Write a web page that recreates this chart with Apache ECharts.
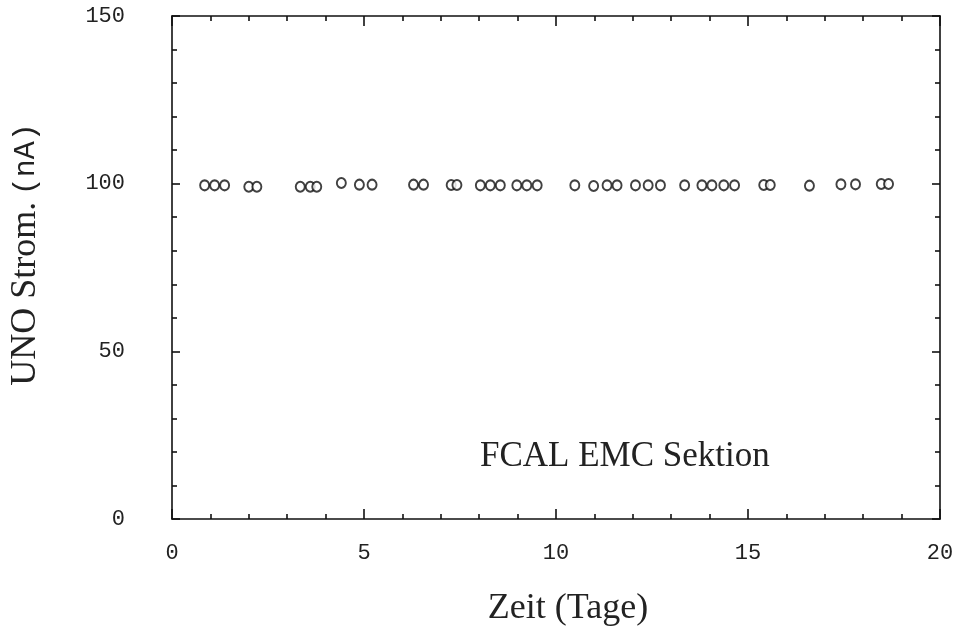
<!DOCTYPE html>
<html>
<head>
<meta charset="utf-8">
<script src="https://cdn.jsdelivr.net/npm/echarts@6/dist/echarts.min.js"></script>
<style>
  html, body { margin: 0; padding: 0; background: #fff; }
  #chart { width: 961px; height: 636px; }
</style>
</head>
<body>
<div id="chart"></div>
<script>
// Zeit (Tage) of each measurement
var zeit = [0.85, 1.11, 1.37, 2.0, 2.21, 3.34, 3.6, 3.77, 4.41, 4.88, 5.21,
  6.29, 6.55, 7.27, 7.42, 8.03, 8.29, 8.55, 8.98, 9.24, 9.51,
  10.49, 10.98, 11.33, 11.59, 12.07, 12.40, 12.72, 13.35, 13.80, 14.06, 14.37, 14.65,
  15.41, 15.58, 16.6, 17.42, 17.8, 18.47, 18.66];
// UNO Strom (nA)
var strom = [99.5, 99.5, 99.5, 99.1, 99.1, 99.1, 99.1, 99.1, 100.2, 99.7, 99.7,
  99.7, 99.7, 99.6, 99.6, 99.5, 99.5, 99.5, 99.5, 99.5, 99.5,
  99.5, 99.3, 99.5, 99.5, 99.5, 99.5, 99.5, 99.5, 99.5, 99.5, 99.5, 99.5,
  99.6, 99.6, 99.4, 99.8, 99.8, 99.9, 99.9];
var xTicks = [0, 5, 10, 15, 20];
var yTicks = [0, 50, 100, 150];

var points = zeit.map(function (t, i) { return [t, strom[i]]; });

var chart = echarts.init(document.getElementById("chart"));

var lineStyle = { color: "#111", width: 1.6 };
var tickLabel = { fontFamily: "Liberation Mono", fontSize: 22, color: "#222" };

var option = {
  backgroundColor: "#fff",
  animation: false,
  grid: { left: 167, right: 21, top: 16, bottom: 117 },
  xAxis: [
    {
      type: "value", min: xTicks[0], max: xTicks[xTicks.length - 1], interval: 5,
      name: "Zeit (Tage)", nameLocation: "middle", nameGap: 72,
      nameTextStyle: { fontFamily: "Liberation Serif", fontSize: 36, color: "#222", padding: [0, 0, 0, 24] },
      axisLine: { show: true, onZero: false, lineStyle: lineStyle },
      axisTick: { inside: true, length: 10, lineStyle: lineStyle },
      minorTick: { show: true, splitNumber: 5, length: 5, lineStyle: lineStyle },
      axisLabel: Object.assign({ margin: 23 }, tickLabel),
      splitLine: { show: false }
    },
    {
      type: "value", position: "top", min: xTicks[0], max: xTicks[xTicks.length - 1], interval: 5,
      axisLine: { show: true, onZero: false, lineStyle: lineStyle },
      axisTick: { inside: true, length: 10, lineStyle: lineStyle },
      minorTick: { show: true, splitNumber: 5, length: 5, lineStyle: lineStyle },
      axisLabel: { show: false },
      splitLine: { show: false }
    }
  ],
  yAxis: [
    {
      type: "value", min: yTicks[0], max: yTicks[yTicks.length - 1], interval: 50,
      name: "{a|UNO Strom.}  {b|(nA)}", nameLocation: "middle", nameGap: 128,
      nameTextStyle: {
        padding: [0, 0, 0, 26],
        rich: {
          a: { fontFamily: "Liberation Serif", fontSize: 36, color: "#222" },
          b: { fontFamily: "Liberation Mono", fontSize: 30, color: "#222" }
        }
      },
      axisLine: { show: true, onZero: false, lineStyle: lineStyle },
      axisTick: { inside: true, length: 8, lineStyle: lineStyle },
      minorTick: { show: true, splitNumber: 5, length: 5, lineStyle: lineStyle },
      axisLabel: Object.assign({ margin: 47 }, tickLabel),
      splitLine: { show: false }
    },
    {
      type: "value", position: "right", min: yTicks[0], max: yTicks[yTicks.length - 1], interval: 50,
      axisLine: { show: true, onZero: false, lineStyle: lineStyle },
      axisTick: { inside: true, length: 8, lineStyle: lineStyle },
      minorTick: { show: true, splitNumber: 5, length: 5, lineStyle: lineStyle },
      axisLabel: { show: false },
      splitLine: { show: false }
    }
  ],
  graphic: [
    {
      type: "text", left: 480, top: 439,
      style: { text: "FCAL EMC Sektion", font: "35px 'Liberation Serif'", fill: "#222" }
    }
  ],
  series: [
    {
      type: "scatter",
      data: points,
      symbol: "circle",
      symbolSize: [9, 10],
      itemStyle: { color: "#fff", borderColor: "#111", borderWidth: 2 }
    }
  ]
};
chart.setOption(option);
</script>
</body>
</html>
